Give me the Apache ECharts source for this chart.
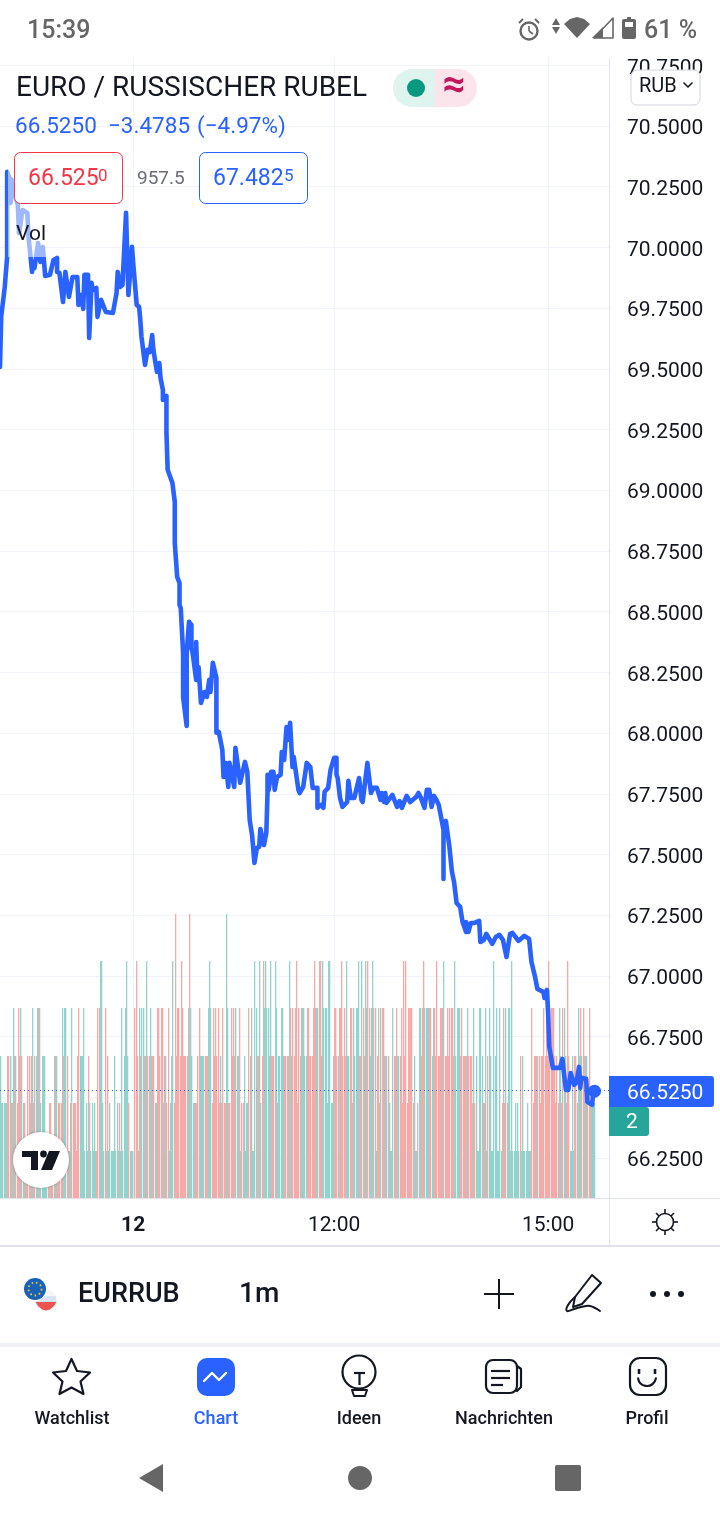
<!DOCTYPE html>
<html>
<head>
<meta charset="utf-8">
<title>EURRUB</title>
<style>
    html, body { margin: 0; padding: 0; background: #fff; }
    #chart { width: 720px; height: 1520px; }
</style>
<script src="https://cdn.jsdelivr.net/npm/echarts@6/dist/echarts.min.js"></script>
</head>
<body>
<div id="chart"></div>
<script>
// price line: bar number and price for each turning point
var lineBars = [
    0, 1, 4, 6, 6, 8, 9, 10, 13, 15, 16, 19, 23, 24, 27, 27, 29, 32, 34, 36,
    38, 42, 45, 48, 48, 50, 53, 55, 58, 61, 65, 66, 68, 70, 71, 74, 75, 77, 78, 81,
    82, 85, 89, 95, 98, 99, 101, 103, 106, 108, 111, 112, 115, 117, 118, 119, 122, 124, 126, 128,
    129, 132, 134, 135, 137, 137, 140, 140, 141, 145, 147, 147, 149, 151, 151, 152, 154, 154, 157, 157,
    159, 161, 161, 162, 165, 165, 166, 167, 169, 172, 174, 176, 177, 179, 182, 182, 184, 187, 188, 190,
    192, 193, 197, 198, 202, 206, 208, 209, 210, 212, 214, 216, 218, 219, 222, 224, 225, 225, 226, 228,
    230, 231, 233, 236, 237, 239, 241, 242, 244, 246, 247, 251, 252, 255, 256, 258, 261, 263, 267, 267,
    270, 272, 273, 276, 278, 281, 283, 283, 284, 286, 288, 292, 293, 295, 298, 299, 302, 304, 305, 309,
    312, 314, 317, 320, 321, 323, 324, 325, 330, 334, 336, 338, 342, 345, 350, 352, 354, 357, 359, 361,
    363, 365, 367, 369, 373, 373, 373, 375, 378, 380, 382, 384, 387, 389, 392, 392, 394, 396, 399, 403,
    404, 407, 409, 414, 417, 420, 423, 426, 429, 431, 436, 441, 445, 447, 450, 452, 457, 458, 460, 461,
    462, 465, 471, 473, 474, 476, 478, 480, 483, 485, 487, 488, 489, 493, 494, 498, 499, 500
]
var linePrices = [
    69.508, 69.714, 69.837, 69.961, 70.311, 70.286, 70.183, 70.278, 70.208, 70.175, 70.059, 70.154, 70.142, 70.043, 69.899, 69.936, 69.915, 70.018, 69.94, 70.002,
    69.882, 69.887, 69.948, 69.957, 69.899, 69.895, 69.775, 69.899, 69.796, 69.878, 69.878, 69.763, 69.804, 69.747, 69.887, 69.887, 69.627, 69.854, 69.825, 69.833,
    69.714, 69.784, 69.734, 69.73, 69.812, 69.899, 69.837, 69.845, 70.142, 69.804, 70.002, 69.936, 69.763, 69.755, 69.701, 69.631, 69.516, 69.578, 69.569, 69.639,
    69.578, 69.487, 69.524, 69.462, 69.413, 69.372, 69.388, 69.236, 69.084, 69.03, 68.952, 68.783, 68.643, 68.618, 68.528, 68.515, 68.33, 68.149, 68.029, 68.33,
    68.458, 68.445, 68.35, 68.33, 68.219, 68.375, 68.219, 68.272, 68.124, 68.169, 68.149, 68.219, 68.169, 68.289, 68.227, 68.001, 68.005, 67.93, 67.819, 67.877,
    67.778, 67.877, 67.778, 67.939, 67.795, 67.881, 67.84, 67.84, 67.642, 67.58, 67.465, 67.527, 67.531, 67.605, 67.539, 67.589, 67.753, 67.828, 67.766, 67.84,
    67.84, 67.766, 67.819, 67.828, 67.922, 67.889, 68.025, 67.972, 68.042, 67.86, 67.902, 67.766, 67.753, 67.778, 67.786, 67.877, 67.86, 67.774, 67.774, 67.692,
    67.704, 67.692, 67.758, 67.774, 67.848, 67.898, 67.898, 67.828, 67.815, 67.733, 67.696, 67.716, 67.803, 67.733, 67.733, 67.725, 67.815, 67.725, 67.716, 67.877,
    67.753, 67.774, 67.774, 67.725, 67.753, 67.716, 67.753, 67.712, 67.745, 67.696, 67.72, 67.692, 67.741, 67.716, 67.737, 67.753, 67.733, 67.692, 67.766, 67.766,
    67.696, 67.741, 67.725, 67.704, 67.601, 67.399, 67.601, 67.638, 67.531, 67.432, 67.383, 67.3, 67.284, 67.222, 67.181, 67.222, 67.181, 67.218, 67.218, 67.226,
    67.14, 67.148, 67.173, 67.132, 67.16, 67.169, 67.148, 67.078, 67.173, 67.177, 67.144, 67.165, 67.152, 67.057, 66.996, 66.946, 66.934, 66.909, 66.942, 66.847,
    66.707, 66.621, 66.621, 66.658, 66.613, 66.53, 66.53, 66.6, 66.551, 66.563, 66.625, 66.539, 66.58, 66.576, 66.481, 66.469, 66.522, 66.525
]
// tick volume per 1m bar, one entry per bar: positive = green bar, negative = red bar
var volumes = [
    3, 2, 2, 2, 2, 2, -3, -3, 3, -2, -2, 4, -3, 3, -2, -4, -3, 4, -3, 2,
    -2, 1, -1, -3, -3, 2, -3, 4, -2, -3, 3, 4, 4, -4, 2, 3, 3, 3, 1, 1,
    -1, -2, -2, 1, -1, -3, 3, 3, -1, -2, -2, -2, 4, -3, 4, 4, -3, -1, 1, -2,
    4, -2, -2, -2, -1, -3, -4, 3, 3, 3, 4, 1, 2, 1, -3, 2, 1, 2, 1, 2,
    1, -1, -4, -4, 5, 5, 2, 1, -4, 1, -3, 1, 2, 1, 1, 1, 3, 1, 2, 1,
    -2, 1, 4, 1, 3, 4, 5, 3, -2, 1, 1, 1, 0, -4, -5, -3, -1, 4, -3, 4,
    4, -3, 3, 5, -3, -3, 4, 3, -3, -3, 2, 2, -4, -4, -3, -4, -4, 2, -3, 3,
    -2, -4, 1, 2, 3, 5, -2, -6, -3, -4, -4, -3, -5, -4, -3, -3, -3, 3, 4, -6,
    4, 3, 2, 2, -2, -2, -3, -4,
    3, 3, 3, 3, -3, -3, -3, 4, 5, 4, -2, -4, -3, -4, -3, -4, -2, 3, -2, -4,
    -2, -2, 6, 4, -2, -2, -4, -3, -4, -3, 4, 3, 3, -4, 1, -2, -2, 3, 1, 2,
    2, -4, -3, 4, 1, 1, 5, 4, -3, -3, 5, 2, -3, -5, 4, 5, 4, 4, 3, 5,
    -3, -3, -3, 5, 4, -2, 3, 3, 4, 4, 3, -3, -3, -3, -3, 5, -4, 3, -4, -3,
    -4, -5, -2, -4, 3, -4, 4, 4, 3, 3, -4, -4, -3, -3, -3, -4, -5, -4, 4, 4,
    -5, -5, -3, 5, 4, 4, 4, 2, 5, 5, 2, 2, 3, -4, -4, -3, 3, -4, -4, -5,
    -3, -4, -3, 5, 3, 3, -4, -4, -2, 4, 3, 4, 4, 5, -3, -3, 5, -4, -3, 5,
    4, -5, -4, 3, 4, 5, -4, 4, 1, -3, -4, -2, 4, -4, -4, 3, -3, 3, -3, 2,
    1, 1, 4, -3, -3, -4, 3, 3,
    -3, -4, -2, -5, -3, -5, -2, -4, -4, -4, -4, -2, 3, 1, 1, -2, 4, 4, -3, -4,
    -5, 4, 4, 4, 4, -4, -4, 3, 4, -4, -3, -5, -3, -3, -4, -4, -4, 5, -3, -3,
    -4, -3, -4, -4, -4, -3, 5, 3, 4, 4, 4, -3, -4, -3, -3, -3, -3, 4, -3, -3,
    -3, -2, 4, -2, 3, 1, 1, 4, 4, 3, -2, -2, 4, 1, -3, 4, 3, 1, 1, 5,
    3, 4, 1, 1, 4, 1, -2, -4, -2, 4, -2, 4, 4, 1, 5, 1, 1, 2, 1, 2,
    1, -3, 1, 3, 1, 1, 1, 2, 1, 1, 1, -4, -2, -3, -3, -3, 3, -3, -2, -3,
    -3, -4, -3, -4, -3, -5, -4, -4, -4, -4, -3, -2, -3, -2, 4, 3, -2, -4, 4, 3,
    -2, -5, -3, 1, 1, 3, 1, -3, -3, -2, 4, 3, -4, 3, -4, -3, 3, 3, -2, -4,
    2, -2, 2, 2, 2
]
var priceTicks = [66.25, 66.5, 66.75, 67, 67.25, 67.5, 67.75, 68, 68.25, 68.5, 68.75, 69, 69.25, 69.5, 69.75, 70, 70.25, 70.5, 70.75]
var timeTicks = [112, 281, 461]
var timeLabels = ['{day|12}', '12:00', '15:00']
var lastPrice = 66.525
var lastBar = 500

var FONT = 'Roboto'
var INK = '#131722'
var BLUE = '#2962ff'
var GREY = '#666666'
var BORDER = '#e0e3eb'

var lineData = lineBars.map(function(bar, index) {
    return [bar, linePrices[index]]
})
var volumeData = volumes.map(function(value, index) {
    return [index, Math.abs(value), value > 0 ? 1 : 0]
})

// same look as the app: bars sit on whole pixels, which leaves the thin white gaps
function renderVolumeBar(params, api) {
    var top = api.coord([api.value(0), api.value(1)])
    var base = api.coord([api.value(0), 0])
    return {
        type: 'rect',
        shape: {
            x: Math.round(top[0]),
            y: Math.round(top[1]),
            width: 1.3,
            height: Math.round(base[1]) - Math.round(top[1])
        },
        style: {
            fill: api.value(2) ? '#93d3cd' : '#f7a9a7'
        }
    }
}

function text(x, y, str, size, color, weight, align) {
    return {
        type: 'text',
        z: 100,
        style: {
            x: x,
            y: y + 2,  // roboto sits a bit high on middle
            text: str,
            fill: color || INK,
            fontFamily: FONT,
            fontSize: size,
            fontWeight: weight || 400,
            align: align || 'left',
            verticalAlign: 'middle',
            textAlign: align || 'left',
            textVerticalAlign: 'middle'
        }
    }
}
function box(x, y, w, h, r, fill, stroke, width, extra) {
    var style = { fill: fill || 'transparent', stroke: stroke || 'transparent', lineWidth: width || 0 }
    for (var k in extra) style[k] = extra[k]
    return { type: 'rect', z: 100, shape: { x: x, y: y, width: w, height: h, r: r }, style: style }
}
function line(x1, y1, x2, y2, color, width, cap) {
    return {
        type: 'line',
        z: 100,
        shape: { x1: x1, y1: y1, x2: x2, y2: y2 },
        style: { stroke: color, lineWidth: width, lineCap: cap || 'butt' }
    }
}
function circle(cx, cy, r, fill, stroke, width, dash) {
    return {
        type: 'circle',
        z: 100,
        shape: { cx: cx, cy: cy, r: r },
        style: { fill: fill || 'transparent', stroke: stroke || 'transparent', lineWidth: width || 0, lineDash: dash || null }
    }
}
function poly(points, fill) {
    return { type: 'polygon', z: 100, shape: { points: points }, style: { fill: fill } }
}
function outline(points, color, width, closed, smooth) {
    return {
        type: closed ? 'polygon' : 'polyline',
        z: 100,
        shape: { points: points, smooth: smooth || 0 },
        style: { fill: 'transparent', stroke: color, lineWidth: width, lineJoin: 'round', lineCap: 'round' }
    }
}
function arc(cx, cy, r, from, to, color, width) {
    return {
        type: 'arc',
        z: 100,
        shape: { cx: cx, cy: cy, r: r, startAngle: from, endAngle: to, clockwise: true },
        style: { fill: 'transparent', stroke: color, lineWidth: width, lineCap: 'round' }
    }
}

var chrome = [
    // faded part of the line behind the legend
    box(8, 152, 40, 105, 0, 'rgba(255,255,255,0.55)'),

    // status bar
    text(27, 30, '15:39', 25, GREY, 500),
    circle(529, 31, 8.5, '#fff', GREY, 2.4),
    line(529, 26, 529, 31, GREY, 1.6),
    line(529, 31, 533, 34, GREY, 1.6),
    line(519, 23, 523, 19, GREY, 2),
    line(535, 19, 539, 23, GREY, 2),
    poly([[552, 25], [556, 18], [560, 25]], GREY),
    poly([[552, 27], [560, 27], [556, 34]], GREY),
    poly([[564, 24], [570, 19], [577, 17], [584, 19], [590, 24], [577, 38]], GREY),
    outline([[594, 38], [613, 18], [613, 38]], GREY, 1.6, true),
    poly([[592, 38], [603, 27], [603, 38]], GREY),
    box(622, 19, 14, 20, 2, GREY),
    box(627, 17, 4, 3, 0, GREY),
    box(625, 22, 8, 5, 0, '#fff'),
    text(644, 30, '61 %', 25, GREY, 500),

    // header
    text(16, 87, 'EURO / RUSSISCHER RUBEL', 28, INK, 400),
    box(393, 69, 42, 38, [19, 0, 0, 19], '#dff3ef'),
    box(435, 69, 42, 38, [0, 19, 19, 0], '#fce4ec'),
    circle(416, 88, 9, '#089981'),
    text(454, 85, '≈', 40, '#c2185b', 700, 'center'),
    text(15, 125, '66.5250', 22.5, BLUE),
    text(108, 125, '−3.4785', 22.5, BLUE),
    text(197, 125, '(−4.97%)', 22.5, BLUE),
    box(14.5, 152.5, 108, 51, 6, '#fff', '#f23645', 1),
    text(28, 177, '66.525', 23, '#f23645'),
    text(98, 175, '0', 17, '#f23645'),
    text(137, 177, '957.5', 19, '#6a6d78'),
    box(199.5, 152.5, 108, 51, 6, '#fff', BLUE, 1),
    text(213, 177, '67.482', 23, BLUE),
    text(284, 175, '5', 17, BLUE),
    text(16, 233, 'Vol', 21, INK),

    // right side of the chart
    box(631, 70, 69, 35, 6, '#fff', '#d1d4dc', 1),
    text(639, 85, 'RUB', 20, INK),
    outline([[684, 83], [688, 87], [692, 83]], INK, 1.6),
    line(609.5, 58, 609.5, 1245, BORDER, 1),
    line(0, 1198.5, 720, 1198.5, BORDER, 1),
    box(609, 1076, 105, 31, [0, 3, 3, 0], BLUE),
    text(627, 1092, '66.5250', 21, '#fff'),
    box(609, 1107, 40, 29, [0, 3, 3, 0], '#26a69a'),
    text(632, 1121, '2', 21, '#fff', 400, 'center'),
    circle(665, 1222, 8.5, 'transparent', INK, 1.6),
    line(665, 1209, 665, 1213, INK, 1.6),
    line(665, 1231, 665, 1235, INK, 1.6),
    line(652, 1222, 656, 1222, INK, 1.6),
    line(674, 1222, 678, 1222, INK, 1.6),
    line(656, 1213, 659, 1216, INK, 1.6),
    line(671, 1228, 674, 1231, INK, 1.6),
    line(674, 1213, 671, 1216, INK, 1.6),
    line(659, 1228, 656, 1231, INK, 1.6),

    // tradingview badge
    {
        type: 'circle',
        z: 100,
        shape: { cx: 41, cy: 1160, r: 28 },
        style: { fill: '#fff', shadowBlur: 3, shadowColor: 'rgba(0,0,0,0.3)' }
    },
    poly([[22, 1151], [38, 1151], [38, 1170], [31, 1170], [31, 1157], [22, 1157]], INK),
    circle(43.5, 1154, 3.4, INK),
    poly([[49, 1151], [60, 1151], [52, 1170], [41, 1170]], INK),

    // symbol toolbar
    { type: 'rect', z: 100, shape: { x: 0, y: 1245, width: 720, height: 2 }, style: { fill: BORDER } },
    circle(46, 1300, 10.5, '#f4f6f8'),
    poly([[36, 1296], [56, 1296], [56.5, 1302], [35.5, 1302]], '#d5e3f3'),
    poly([[35.5, 1302], [56.5, 1302], [54, 1306], [50, 1309.5], [46, 1310.5], [42, 1309.5], [38, 1306]], '#ef5350'),
    circle(35, 1289, 12, '#fff'),
    circle(35, 1289, 11, '#1a62b5'),
    circle(35, 1289, 6.5, 'transparent', '#f2c230', 1.8, [1.6, 2.8]),
    text(78, 1293, 'EURRUB', 27, INK, 500),
    text(239, 1293, '1m', 28, INK, 500),
    line(484, 1294, 514, 1294, INK, 2),
    line(499, 1279, 499, 1309, INK, 2),
    outline([[592, 1275], [601, 1283], [582, 1304], [573, 1307], [575, 1297]], INK, 2, true),
    outline([[575, 1297], [568, 1305], [567, 1311], [574, 1309], [581, 1307], [590, 1306], [600, 1311]], INK, 2, false, 0.4),
    circle(653, 1294, 3, INK),
    circle(667, 1294, 3, INK),
    circle(681, 1294, 3, INK),
    { type: 'rect', z: 100, shape: { x: 0, y: 1343, width: 720, height: 4 }, style: { fill: '#eef1f5' } },

    // bottom navigation
    outline([[71.5, 1359], [77, 1371], [90, 1372.5], [80.5, 1381.5], [83.5, 1394], [71.5, 1387.5], [59.5, 1394], [62.5, 1381.5], [53, 1372.5], [66, 1371]], INK, 2.2, true),
    box(197, 1358, 38, 38, 10, BLUE),
    outline([[204, 1381], [212, 1373], [219, 1380], [226, 1373]], '#fff', 2.4),
    circle(359, 1372, 16.5, 'transparent', INK, 2.2),
    line(354, 1373, 365, 1373, INK, 2.2),
    line(359.5, 1373, 359.5, 1385, INK, 2.2),
    outline([[352, 1390], [367, 1390], [365, 1396], [354, 1396]], INK, 2, true),
    box(486, 1360, 31, 33, 7, '#fff', INK, 2.2),
    outline([[517, 1366], [521, 1369], [521, 1387], [517, 1391]], INK, 2.2),
    line(491, 1371, 510, 1371, INK, 2.2),
    line(491, 1378, 510, 1378, INK, 2.2),
    line(491, 1385, 503, 1385, INK, 2.2),
    box(630, 1358, 36, 37, 10, '#fff', INK, 2.2),
    line(639, 1369, 639, 1374, INK, 2.6),
    line(655, 1369, 655, 1374, INK, 2.6),
    arc(647, 1377, 9, 0.15, Math.PI - 0.15, INK, 2.2),
    text(72, 1417, 'Watchlist', 18, INK, 500, 'center'),
    text(216, 1417, 'Chart', 18, BLUE, 500, 'center'),
    text(359, 1417, 'Ideen', 18, INK, 500, 'center'),
    text(504, 1417, 'Nachrichten', 18, INK, 500, 'center'),
    text(647, 1417, 'Profil', 18, INK, 500, 'center'),

    // android nav bar
    poly([[163, 1464], [163, 1492], [139, 1478]], GREY),
    circle(360, 1478, 12, GREY),
    box(555, 1465, 26, 26, 2, GREY)
]

var chart = echarts.init(document.getElementById('chart'))
chart.setOption({
    animation: false,
    backgroundColor: '#fff',
    textStyle: { fontFamily: FONT },
    grid: { left: 0, top: 58, width: 609, height: 1140, containLabel: false },
    xAxis: {
        type: 'value',
        min: 0,
        max: 512.2,
        axisLine: { show: false },
        axisTick: { show: false, customValues: timeTicks },
        axisLabel: {
            customValues: timeTicks,
            margin: 17,
            fontSize: 21,
            color: INK,
            fontFamily: FONT,
            hideOverlap: false,
            formatter: function(value) {
                return timeLabels[timeTicks.indexOf(value)]
            },
            rich: {
                day: { fontSize: 21, fontWeight: 700, color: INK, fontFamily: FONT }
            }
        },
        splitLine: { show: true, lineStyle: { color: '#f0f3fa', width: 1 } }
    },
    yAxis: [{
        type: 'value',
        position: 'right',
        min: 66.0852,
        max: 70.78,
        axisLine: { show: false },
        axisTick: { show: false, customValues: priceTicks },
        axisLabel: {
            customValues: priceTicks,
            margin: 18,
            fontSize: 21,
            color: INK,
            fontFamily: FONT,
            hideOverlap: false,
            formatter: function(value) {
                return '{price|' + value.toFixed(4) + '}'
            },
            rich: {
                // nudges the labels down onto their grid lines
                price: { fontSize: 21, color: INK, fontFamily: FONT, padding: [6, 0, 0, 0] }
            }
        },
        splitLine: { show: true, lineStyle: { color: '#f0f3fa', width: 1 } }
    }, {
        // volume pane shares the grid, one tick is about 47px high
        type: 'value',
        min: 0,
        max: 24.05,
        show: false
    }],
    series: [{
        type: 'custom',
        yAxisIndex: 1,
        renderItem: renderVolumeBar,
        data: volumeData,
        encode: { x: 0, y: 1 },
        silent: true,
        z: 1
    }, {
        type: 'line',
        data: lineData,
        yAxisIndex: 0,
        showSymbol: false,
        smooth: false,
        silent: true,
        z: 3,
        lineStyle: { color: BLUE, width: 4.6, join: 'round', cap: 'round' },
        markLine: {
            silent: true,
            symbol: 'none',
            label: { show: false },
            lineStyle: { color: BLUE, type: [1, 3], width: 1 },
            data: [{ yAxis: lastPrice }]
        }
    }, {
        type: 'scatter',
        data: [[lastBar, lastPrice]],
        symbolSize: 13,
        silent: true,
        z: 4,
        itemStyle: { color: BLUE, opacity: 1 }
    }],
    graphic: { elements: chrome }
})
</script>
</body>
</html>
